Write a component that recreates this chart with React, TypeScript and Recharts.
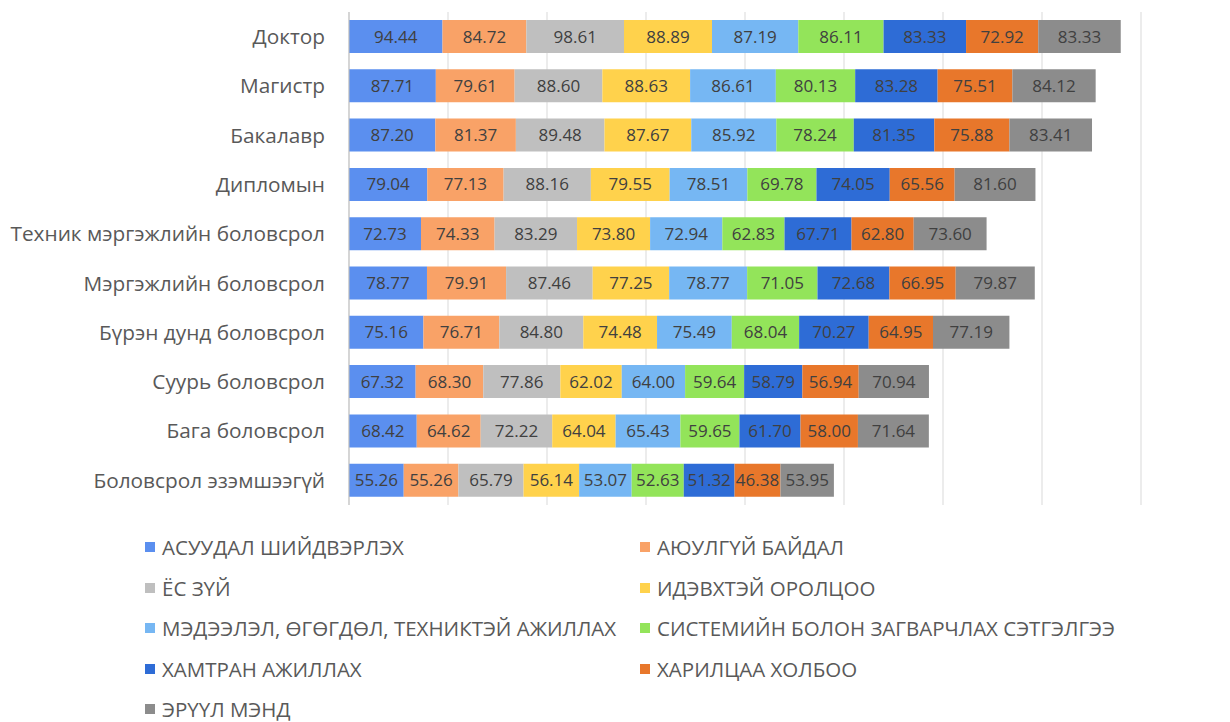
import React from "react";
import {
  Bar,
  BarChart,
  CartesianGrid,
  LabelList,
  Legend,
  XAxis,
  YAxis,
} from "recharts";

const categories = [
  "Доктор",
  "Магистр",
  "Бакалавр",
  "Дипломын",
  "Техник мэргэжлийн боловсрол",
  "Мэргэжлийн боловсрол",
  "Бүрэн дунд боловсрол",
  "Суурь боловсрол",
  "Бага боловсрол",
  "Боловсрол эзэмшээгүй",
];

const seriesNames = [
  "АСУУДАЛ ШИЙДВЭРЛЭХ",
  "АЮУЛГҮЙ БАЙДАЛ",
  "ЁС ЗҮЙ",
  "ИДЭВХТЭЙ ОРОЛЦОО",
  "МЭДЭЭЛЭЛ, ӨГӨГДӨЛ, ТЕХНИКТЭЙ АЖИЛЛАХ",
  "СИСТЕМИЙН БОЛОН ЗАГВАРЧЛАХ СЭТГЭЛГЭЭ",
  "ХАМТРАН АЖИЛЛАХ",
  "ХАРИЛЦАА ХОЛБОО",
  "ЭРҮҮЛ МЭНД",
];

const colors = [
  "#5B8FEF",
  "#F9A267",
  "#BFBFBF",
  "#FFD24C",
  "#76B7F3",
  "#93E45A",
  "#2E6CD6",
  "#E8772B",
  "#8C8C8C",
];

const problemSolving = [94.44, 87.71, 87.2, 79.04, 72.73, 78.77, 75.16, 67.32, 68.42, 55.26];
const safety = [84.72, 79.61, 81.37, 77.13, 74.33, 79.91, 76.71, 68.3, 64.62, 55.26];
const ethics = [98.61, 88.6, 89.48, 88.16, 83.29, 87.46, 84.8, 77.86, 72.22, 65.79];
const participation = [88.89, 88.63, 87.67, 79.55, 73.8, 77.25, 74.48, 62.02, 64.04, 56.14];
const information = [87.19, 86.61, 85.92, 78.51, 72.94, 78.77, 75.49, 64.0, 65.43, 53.07];
const systems = [86.11, 80.13, 78.24, 69.78, 62.83, 71.05, 68.04, 59.64, 59.65, 52.63];
const teamwork = [83.33, 83.28, 81.35, 74.05, 67.71, 72.68, 70.27, 58.79, 61.7, 51.32];
const communication = [72.92, 75.51, 75.88, 65.56, 62.8, 66.95, 64.95, 56.94, 58.0, 46.38];
const health = [83.33, 84.12, 83.41, 81.6, 73.6, 79.87, 77.19, 70.94, 71.64, 53.95];

const seriesValues = [
  problemSolving,
  safety,
  ethics,
  participation,
  information,
  systems,
  teamwork,
  communication,
  health,
];

const xTicks = [0, 100, 200, 300, 400, 500, 600, 700, 800];

const data = categories.map((name, i) => {
  const row: Record<string, number | string> = { name };
  seriesValues.forEach((vals, s) => {
    row["s" + s] = vals[i];
  });
  return row;
});

const font = "'Open Sans', 'Noto Sans', sans-serif";

const LegendBox = () => (
  <div
    style={{
      display: "grid",
      gridTemplateColumns: "495px 495px",
      gridAutoRows: "40.5px",
      paddingLeft: 137,
      paddingTop: 22,
      fontFamily: font,
      fontSize: 20.5,
      color: "#595959",
    }}
  >
    {seriesNames.map((n, i) => (
      <div key={n} style={{ display: "flex", alignItems: "center", whiteSpace: "nowrap" }}>
        <span
          style={{
            display: "inline-block",
            width: 10,
            height: 10,
            background: colors[i],
            marginRight: 7,
          }}
        />
        {n}
      </div>
    ))}
  </div>
);

export default function App() {
  return (
    <div style={{ width: 1214, height: 714 }}>
      <BarChart
        width={1214}
        height={714}
        data={data}
        layout="vertical"
        margin={{ top: 4, right: 81, bottom: 0, left: 0 }}
        barSize={33}
      >
        <CartesianGrid horizontal={false} stroke="#D9D9D9" />
        <XAxis type="number" domain={[0, 800]} ticks={xTicks} hide />
        <YAxis
          type="category"
          dataKey="name"
          width={341}
          tickLine={false}
          tickSize={0}
          tickMargin={24}
          axisLine={{ stroke: "#BFBFBF" }}
          tick={{ fill: "#595959", fontSize: 20.8, fontFamily: font }}
        />
        <Legend
          verticalAlign="bottom"
          wrapperStyle={{ height: 217, left: 0, width: 1214 }}
          content={() => <LegendBox />}
        />
        {seriesNames.map((n, s) => (
          <Bar
            key={n}
            dataKey={"s" + s}
            name={n}
            stackId="a"
            fill={colors[s]}
            isAnimationActive={false}
          >
            <LabelList
              dataKey={"s" + s}
              position="center"
              formatter={(v: any) => Number(v).toFixed(2)}
              style={{ fill: "#404040", fontSize: 17, fontFamily: font }}
            />
          </Bar>
        ))}
      </BarChart>
    </div>
  );
}
